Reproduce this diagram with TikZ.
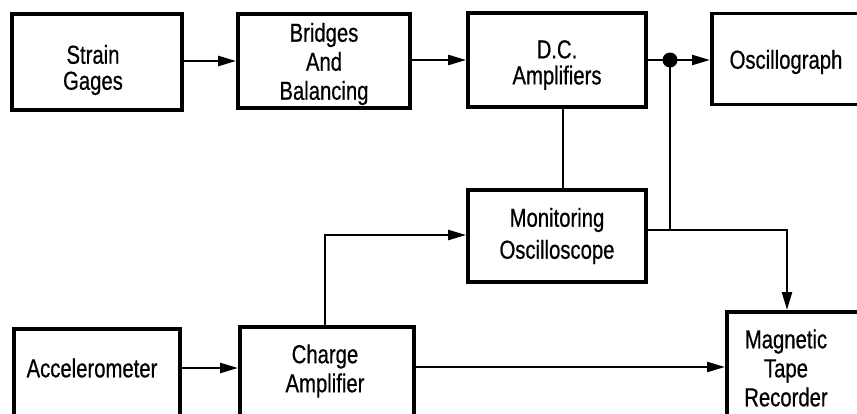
\documentclass[tikz,border=0pt]{standalone}
\usepackage{fontspec}
\setmainfont{Liberation Sans}[FakeStretch=0.78,FakeBold=0.6]
\usetikzlibrary{arrows.meta}
\tikzset{
  blk/.style={draw, line width=3.8pt, inner sep=0pt},
  txt/.style={align=center, inner sep=0pt, font=\fontsize{26}{29}\selectfont},
  conn/.style={line width=2.4pt},
  arr/.style={conn, -{Triangle[length=18pt,width=10pt]}},
}
\begin{document}
\begin{tikzpicture}[x=1pt,y=-1pt]
\useasboundingbox (0,0) rectangle (857,413);
\clip (0,0) rectangle (857,413);
\fill[white] (0,0) rectangle (857,413);
% boxes
\node[blk, minimum width=170pt, minimum height=96pt] (sg) at (97,62) {};
\node[txt, font=\fontsize{26}{26}\selectfont] (sgt) at (93,70) {Strain\\Gages};
\node[blk, minimum width=172pt, minimum height=94pt] (bb) at (324,61) {};
\node[txt] (bbt) at (324,64) {Bridges\\And\\Balancing};
\node[blk, minimum width=178pt, minimum height=94pt] (dc) at (557,60) {};
\node[txt, font=\fontsize{26}{26}\selectfont] (dct) at (557,65) {D.C.\\Amplifiers};
\node[blk, minimum width=156pt, minimum height=91pt, anchor=west] (os) at (710,59) {};
\node[txt] (ost) at (786,62) {Oscillograph};
\node[blk, minimum width=178pt, minimum height=92pt] (mo) at (557,236) {};
\node[txt, font=\fontsize{26}{32}\selectfont] (mot) at (557,236) {Monitoring\\Oscilloscope};
\node[blk, minimum width=166pt, minimum height=91pt, anchor=north west] (ac) at (12,327) {};
\node[txt] (act) at (92,368) {Accelerometer};
\node[blk, minimum width=174pt, minimum height=93pt, anchor=north west] (ca) at (238,325) {};
\node[txt] (cat) at (325,371) {Charge\\Amplifier};
\node[blk, minimum width=150pt, minimum height=110pt, anchor=north west] (mt) at (725,310) {};
\node[txt] (mtt) at (786,368) {Magnetic\\Tape\\Recorder};
% connector helpers
\coordinate (dot) at (670,60);
\coordinate (jn) at (670,230);
\coordinate (mtc) at (787,230);
\coordinate (cau) at (325,235);
% connectors
\draw[arr] (sg.east |- 0,61) -- (bb.west |- 0,61);
\draw[arr] (bb.east |- 0,60) -- (dc.west |- 0,60);
\draw[arr] (dc.east |- 0,60) -- (os.west |- 0,60);
\fill (dot) circle (7.5pt);
\draw[conn] (dc.south -| 563,0) -- (mo.north -| 563,0);
\draw[conn] (dot) -- (jn);
\draw[arr] (mo.east |- jn) -- (mtc) -- (mt.north -| mtc);
\draw[arr] (ca.north -| cau) -- (cau) -- (mo.west |- cau);
\draw[arr] (ac.east |- 0,368) -- (ca.west |- 0,368);
\draw[arr] (ca.east |- 0,367) -- (mt.west |- 0,367);
\end{tikzpicture}
\end{document}
